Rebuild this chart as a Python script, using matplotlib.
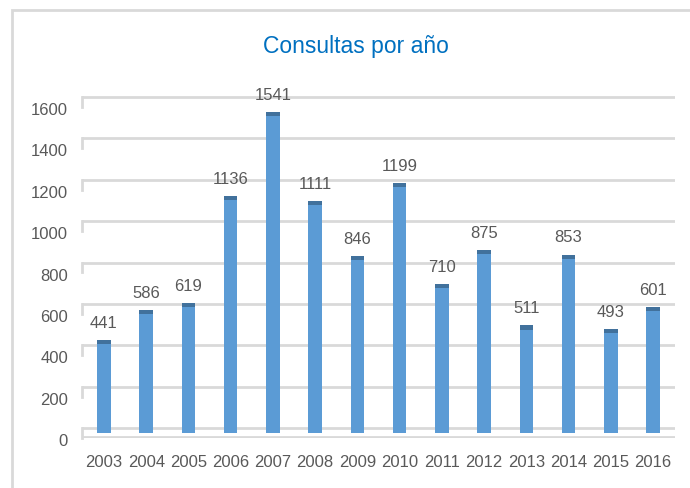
import numpy as np
import matplotlib.pyplot as plt
import matplotlib.transforms as mtransforms
from matplotlib.patches import Rectangle

# data
years = ['2003', '2004', '2005', '2006', '2007', '2008', '2009',
         '2010', '2011', '2012', '2013', '2014', '2015', '2016']
consultas = [441, 586, 619, 1136, 1541, 1111, 846,
             1199, 710, 875, 511, 853, 493, 601]
y_ticks = [0, 200, 400, 600, 800, 1000, 1200, 1400, 1600]

plt.rcParams['font.family'] = ['Liberation Sans', 'DejaVu Sans']

bar_color = '#5B9BD5'
cap_color = '#41719C'
text_color = '#595959'
grid_color = '#D9D9D9'

fig = plt.figure(figsize=(6.9, 4.88), dpi=100)
ax = fig.add_axes([82/690, 0.1018, (675-82)/690, 0.7248])
ax.set_xlim(-0.52, 13.52)
ax.set_ylim(-50, 1660)

x = np.arange(len(years))
vals = np.array(consultas)
base = -24
drop = 15  # front face of the bars sits slightly lower (pseudo 3D)
ax.bar(x, vals - drop - base, bottom=base, width=0.32, color=bar_color, zorder=3)
ax.bar(x, 20, bottom=vals - drop - 20, width=0.32, color=cap_color, zorder=4)

# gridlines with small hook at the left (pseudo 3D look)
for v in y_ticks:
    ax.axhline(v, color=grid_color, lw=2, zorder=1)
    ax.plot([-0.52, -0.52], [v, v - 48], color=grid_color, lw=2, zorder=1, clip_on=False)
ax.axhline(-43, color=grid_color, lw=2, zorder=1)

for xi, v in zip(x, consultas):
    ax.annotate(str(v), (xi, v - drop), xytext=(0, 12), textcoords='offset points',
                ha='center', va='center', fontsize=12, color=text_color)

ax.set_xticks(x)
ax.set_xticklabels(years)
ax.set_yticks(y_ticks)
ax.set_yticklabels([str(t) for t in y_ticks])
ax.tick_params(axis='both', length=0, labelsize=12, labelcolor=text_color)
ax.tick_params(axis='y', pad=10)
ax.tick_params(axis='x', pad=12)
shift = mtransforms.ScaledTranslation(0, -12/100, fig.dpi_scale_trans)
for lab in ax.get_yticklabels():
    lab.set_transform(lab.get_transform() + shift)

for s in ax.spines.values():
    s.set_visible(False)

fig.text(356/690, 1 - 47/488, 'Consultas por año', ha='center', va='center',
         fontsize=16.5, color='#0070C0')

# outer chart frame
fig.patches.append(Rectangle((12/690, -0.05), 1.2, 1 - 10/488 + 0.05,
                             transform=fig.transFigure, fill=False,
                             edgecolor=grid_color, lw=2))

fig.savefig('out.png', dpi=100)
